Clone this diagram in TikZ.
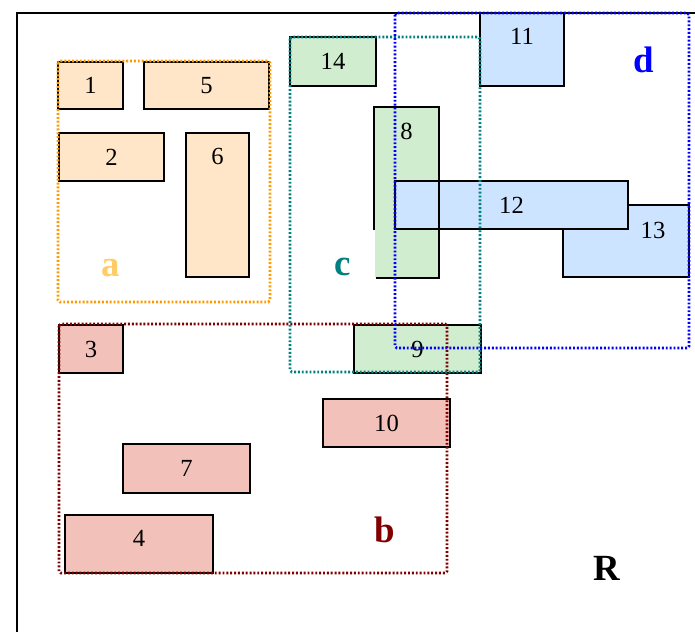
\documentclass[tikz,border=0pt]{standalone}
\usepackage{fontspec}
\setmainfont{Liberation Serif}
\definecolor{fillA}{HTML}{FFE6C8}
\definecolor{fillB}{HTML}{F2C2BA}
\definecolor{fillC}{HTML}{D0EDD0}
\definecolor{fillD}{HTML}{CCE4FF}
\definecolor{lineA}{HTML}{FF9900}
\definecolor{tagA}{HTML}{FFCC66}
\definecolor{lineB}{HTML}{800000}
\definecolor{lineC}{HTML}{008080}
\definecolor{lineD}{HTML}{0000FF}
\begin{document}
\begin{tikzpicture}[
    x=0.02cm, y=-0.02cm,
    box/.style={rectangle, draw, line width=1.25pt, inner sep=0pt, font=\fontsize{14}{16}\selectfont},
    boxa/.style={box, fill=fillA},
    boxb/.style={box, fill=fillB},
    boxc/.style={box, fill=fillC},
    boxd/.style={box, fill=fillD},
    num/.style={anchor=center, inner sep=0pt, font=\fontsize{14}{16}\selectfont},
    group/.style={line width=1.5pt, dash pattern=on 1.1pt off 1.1pt, rounded corners=1pt},
    tag/.style={inner sep=0pt, font=\fontsize{21}{24}\selectfont\bfseries}
]
\useasboundingbox (0,0) rectangle (695,632);

% Region R
\coordinate (rtop) at (695,13);
\coordinate (rcorner) at (17,13);
\coordinate (rbottom) at (17,632);
\draw[line width=1.4pt] (rtop) -- (rcorner) -- (rbottom);
\node[tag] (tR) at (607,568) {R};

% Group a
\node[boxa, minimum width=1.30cm, minimum height=0.94cm] (b1) at (90.5,85.5) {1};
\node[boxa, minimum width=2.50cm, minimum height=0.94cm] (b5) at (206.5,85.5) {5};
\node[boxa, minimum width=2.10cm, minimum height=0.96cm] (b2) at (111.5,157) {2};
\node[boxa, minimum width=1.26cm, minimum height=2.88cm,
      label={[num, yshift=-0.5cm]north:6}] (b6) at (217.5,205) {};

% Group b
\node[boxb, minimum width=1.28cm, minimum height=0.96cm] (b3) at (91,349) {3};
\node[boxb, minimum width=2.54cm, minimum height=0.96cm] (b10) at (386.5,423) {10};
\node[boxb, minimum width=2.54cm, minimum height=0.98cm] (b7) at (186.5,468.5) {7};
\node[boxb, minimum width=2.96cm, minimum height=1.16cm,
      label={[num, yshift=0.12cm]center:4}] (b4) at (139,544) {};

% Group c
\node[boxc, minimum width=1.72cm, minimum height=0.98cm] (b14) at (333,61.5) {14};
\node[boxc, draw=none, minimum width=1.26cm, minimum height=3.38cm,
      label={[num, yshift=-0.5cm]north:8}] (b8) at (406.5,192.5) {};
\node[boxc, minimum width=2.54cm, minimum height=0.96cm] (b9) at (417.5,349) {9};

% Group d
\node[boxd, minimum width=1.68cm, minimum height=1.46cm,
      label={[num, yshift=-0.48cm]north:11}] (b11) at (522,49.5) {};
\node[boxd, minimum width=2.52cm, minimum height=1.44cm,
      label={[num, xshift=0.54cm, yshift=0.22cm]center:13}] (b13) at (626,241) {};
\node[boxd, minimum width=4.66cm, minimum height=0.96cm] (b12) at (511.5,205) {12};
\draw[line width=1.25pt] (b8.west |- b12.south) -- (b8.north west) -- (b8.north east)
    -- (b8.south east) -- ([xshift=0.04cm]b8.south west);

% Dotted groups
\draw[group, lineA] (58,61) rectangle (270,302);
\draw[group, lineB] (59,324) rectangle (447,573);
\draw[group, lineC] (290,37) rectangle (480,372);
\draw[group, lineD] (395,13) rectangle (689,348);

\node[tag, tagA] (ta) at (111,268) {a};
\node[tag, lineB] (tb) at (385,530) {b};
\node[tag, lineC] (tc) at (343,267) {c};
\node[tag, lineD] (td) at (644,60) {d};

\end{tikzpicture}
\end{document}
